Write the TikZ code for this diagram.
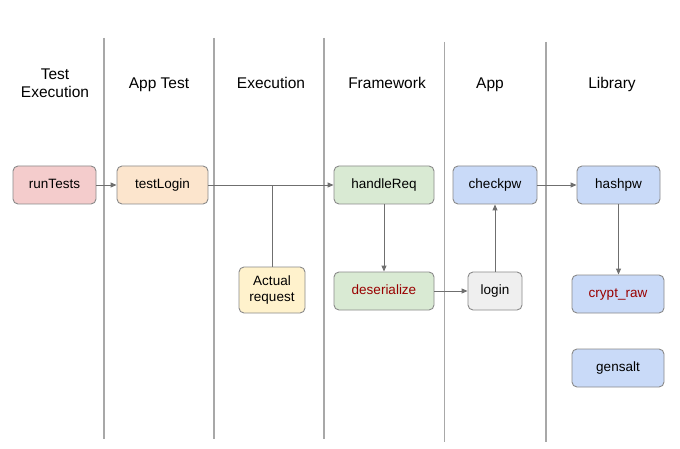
\documentclass[tikz,border=0pt]{standalone}
\usepackage{fontspec}
\setmainfont{Liberation Sans}
\usetikzlibrary{arrows.meta}
\definecolor{pinkf}{HTML}{F4CCCC}
\definecolor{orangef}{HTML}{FCE5CD}
\definecolor{yellowf}{HTML}{FFF2CC}
\definecolor{greenf}{HTML}{D9EAD3}
\definecolor{bluef}{HTML}{C9DAF8}
\definecolor{grayf}{HTML}{EFEFEF}
\definecolor{boxline}{HTML}{8A8A8A}
\definecolor{conn}{HTML}{6F6F6F}
\definecolor{lane}{HTML}{A8A8A8}
\definecolor{darkred}{HTML}{990000}
\tikzset{
  boxbase/.style={draw=boxline, line width=0.9pt, rounded corners=5pt, align=center,
    font=\fontsize{13.5}{16}\selectfont, inner sep=0pt},
  box/.style={boxbase, text height=9.7pt, text depth=3.1pt},
  hdr/.style={align=center, font=\fontsize{15.5}{18}\selectfont, anchor=base, inner sep=0pt},
  lanel/.style={draw=lane, line width=1.4pt},
  arr/.style={draw=conn, line width=0.9pt, -{Triangle[length=6pt,width=5pt]}},
  plain/.style={draw=conn, line width=0.9pt},
}
\begin{document}
\begin{tikzpicture}[x=1pt,y=-1pt]
\useasboundingbox (0,0) rectangle (680,449);
\fill[white] (0,0) rectangle (680,449);
% lanes
\coordinate (l1t) at (104,38); \coordinate (l1b) at (104,439);
\coordinate (l2t) at (214,38); \coordinate (l2b) at (214,439);
\coordinate (l3t) at (324,38); \coordinate (l3b) at (324,439);
\coordinate (l4t) at (444.5,42); \coordinate (l4b) at (444.5,442);
\coordinate (l5t) at (546,42); \coordinate (l5b) at (546,442);
\draw[lanel] (l1t) -- (l1b);
\draw[lanel] (l2t) -- (l2b);
\draw[lanel] (l3t) -- (l3b);
\draw[lanel] (l4t) -- (l4b);
\draw[lanel] (l5t) -- (l5b);
% headers
\node[hdr] (h1) at (55,97.5) {Test\\Execution};
\node[hdr] (h2) at (159,88.5) {App Test};
\node[hdr] (h3) at (271,88.5) {Execution};
\node[hdr] (h4) at (387,88.5) {Framework};
\node[hdr] (h5) at (490,88.5) {App};
\node[hdr] (h6) at (612,88.5) {Library};
% nodes
\node[box, fill=pinkf, minimum width=83pt, minimum height=38pt] (run) at (54.5,185) {runTests};
\node[box, fill=orangef, minimum width=91pt, minimum height=38pt] (tl) at (162.5,185) {testLogin};
\node[boxbase, fill=yellowf, minimum width=66pt, minimum height=46pt] (ar) at (272,290) {Actual\\request};
\node[box, fill=greenf, minimum width=100pt, minimum height=38pt] (hr) at (384,185) {handleReq};
\node[box, fill=greenf, minimum width=100pt, minimum height=38pt, text=darkred] (de) at (384,291) {deserialize};
\node[box, fill=bluef, minimum width=84pt, minimum height=38pt] (cp) at (495,185) {checkpw};
\node[box, fill=grayf, minimum width=54pt, minimum height=38pt] (lo) at (495,291) {login};
\node[box, fill=bluef, minimum width=83pt, minimum height=38pt] (hp) at (618.5,185) {hashpw};
\node[box, fill=bluef, minimum width=92pt, minimum height=38pt, text=darkred] (cr) at (618,294) {crypt\_raw};
\node[box, fill=bluef, minimum width=92pt, minimum height=38pt] (gs) at (618,368) {gensalt};
% connectors
\draw[arr] (run) -- (tl);
\draw[arr] (tl) -- (hr);
\draw[plain] (ar.north) -- (ar.north |- tl.east);
\draw[arr] (hr) -- (de);
\draw[arr] (de) -- (lo);
\draw[arr] (lo) -- (cp);
\draw[arr] (cp) -- (hp);
\draw[arr] (hp.south) -- (hp.south |- cr.north);
\end{tikzpicture}
\end{document}
